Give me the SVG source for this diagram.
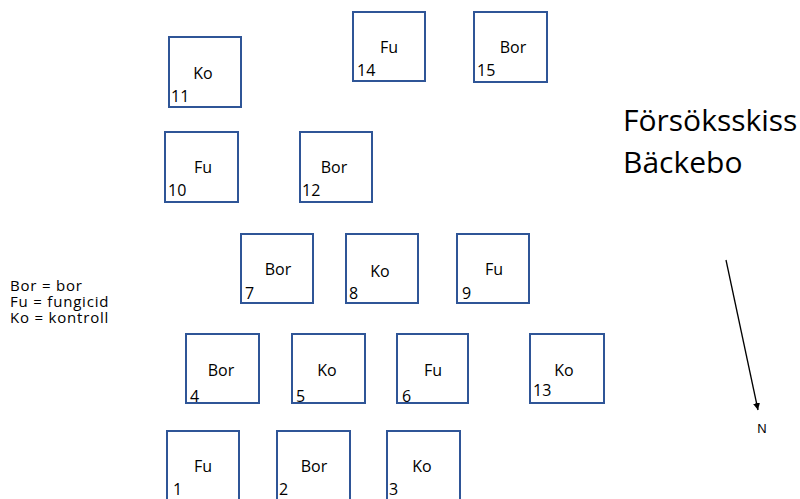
<svg xmlns="http://www.w3.org/2000/svg" width="800" height="499" viewBox="0 0 800 499">
<defs>
<style>
.box{fill:#fff;stroke:#2f5597;stroke-width:2}
.lbl{font-family:"Open Sans","Liberation Sans",sans-serif;font-size:16px;fill:#000;text-anchor:middle}
.num{font-family:"Open Sans","Liberation Sans",sans-serif;font-size:16px;fill:#000}
.leg{font-family:"Open Sans","Liberation Sans",sans-serif;font-size:15px;letter-spacing:0.8px;fill:#000}
.title{font-family:"Open Sans","Liberation Sans",sans-serif;font-size:30px;fill:#000}
</style>
<marker id="ah" viewBox="0 0 10 10" refX="10" refY="5" markerWidth="7" markerHeight="7" orient="auto" markerUnits="userSpaceOnUse">
<path d="M0,0 L10,5 L0,10 z" fill="#000"/>
</marker>
</defs>
<rect width="800" height="499" fill="#fff"/>

<g id="n11"><rect class="box" x="169" y="37" width="72" height="70"/><text class="lbl" x="203" y="79">Ko</text><text class="num" x="171" y="102">11</text></g>
<g id="n14"><rect class="box" x="353" y="12" width="72" height="69"/><text class="lbl" x="389" y="53">Fu</text><text class="num" x="357" y="76">14</text></g>
<g id="n15"><rect class="box" x="474" y="12" width="73" height="70"/><text class="lbl" x="513" y="53">Bor</text><text class="num" x="477" y="76">15</text></g>

<g id="n10"><rect class="box" x="165" y="132" width="73" height="70"/><text class="lbl" x="203" y="173">Fu</text><text class="num" x="168" y="196">10</text></g>
<g id="n12"><rect class="box" x="300" y="132" width="72" height="70"/><text class="lbl" x="334" y="173">Bor</text><text class="num" x="302" y="196">12</text></g>

<g id="n7"><rect class="box" x="241" y="234" width="72" height="69"/><text class="lbl" x="278" y="275">Bor</text><text class="num" x="245" y="299">7</text></g>
<g id="n8"><rect class="box" x="346" y="234" width="72" height="69"/><text class="lbl" x="380" y="277">Ko</text><text class="num" x="349" y="299">8</text></g>
<g id="n9"><rect class="box" x="457" y="234" width="72" height="69"/><text class="lbl" x="494" y="275">Fu</text><text class="num" x="462" y="299">9</text></g>

<g id="n4"><rect class="box" x="186" y="334" width="73" height="69"/><text class="lbl" x="221" y="376">Bor</text><text class="num" x="190" y="402">4</text></g>
<g id="n5"><rect class="box" x="292" y="334" width="73" height="69"/><text class="lbl" x="327" y="376">Ko</text><text class="num" x="296" y="402">5</text></g>
<g id="n6"><rect class="box" x="397" y="334" width="71" height="69"/><text class="lbl" x="433" y="376">Fu</text><text class="num" x="402" y="402">6</text></g>
<g id="n13"><rect class="box" x="530" y="334" width="74" height="69"/><text class="lbl" x="564" y="376">Ko</text><text class="num" x="533" y="396">13</text></g>

<g id="n1"><rect class="box" x="167" y="431" width="72" height="75"/><text class="lbl" x="203" y="472">Fu</text><text class="num" x="173" y="495">1</text></g>
<g id="n2"><rect class="box" x="277" y="431" width="73" height="75"/><text class="lbl" x="314" y="472">Bor</text><text class="num" x="279" y="495">2</text></g>
<g id="n3"><rect class="box" x="387" y="431" width="73" height="75"/><text class="lbl" x="422" y="472">Ko</text><text class="num" x="389" y="495">3</text></g>

<g id="legend">
<text class="leg" x="10" y="291">Bor = bor</text>
<text class="leg" x="10" y="307">Fu = fungicid</text>
<text class="leg" x="10" y="323">Ko = kontroll</text>
</g>

<g id="title">
<text class="title" x="623" y="131">Försöksskiss</text>
<text class="title" x="623" y="173">Bäckebo</text>
</g>

<g id="connectors">
<line x1="726" y1="260" x2="758" y2="410" stroke="#000" stroke-width="1.3" marker-end="url(#ah)"/>
</g>
<text x="762" y="433" font-family="Liberation Sans, Arial, sans-serif" font-size="13" fill="#000" text-anchor="middle">N</text>
</svg>
